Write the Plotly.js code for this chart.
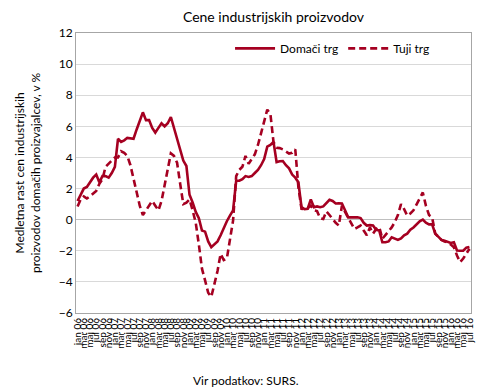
<!DOCTYPE html>
<html>
<head>
<meta charset="utf-8">
<script src="https://cdn.plot.ly/plotly-3.0.1.min.js"></script>
<style>html,body{margin:0;padding:0;background:#fff}#chart{width:490px;height:391px}</style>
</head>
<body>
<div id="chart"></div>
<script>
const monthNames = ["jan","feb","mar","apr","maj","jun","jul","avg","sep","okt","nov","dec"];
const startYear = 2006;
const nMonths = 127;

const domaci = [
 1.2,1.6,2.0,2.1,2.4,2.7,2.9,2.4,2.8,2.8,
 2.7,3.0,3.4,5.2,5.0,5.1,5.26,5.25,5.2,5.8,
 6.4,6.9,6.4,6.4,5.9,5.6,5.9,6.2,6.0,6.2,
 6.6,5.9,5.15,4.5,3.8,3.45,1.6,1.1,0.5,0.1,
 -0.7,-0.77,-1.4,-1.77,-1.6,-1.4,-1.0,-0.5,-0.1,0.26,
 0.6,2.5,2.5,2.6,2.8,2.75,2.8,3.0,3.2,3.5,
 3.9,4.7,4.8,5.0,3.7,3.75,3.77,3.5,3.3,2.9,
 2.7,2.4,0.8,0.68,0.7,1.3,0.8,0.85,0.8,0.85,
 1.1,1.28,1.2,1.04,1.05,1.04,0.6,0.15,0.15,0.15,
 0.15,0.1,-0.2,-0.38,-0.35,-0.38,-0.65,-0.7,-1.45,-1.45,
 -1.4,-1.13,-1.2,-1.3,-1.2,-1.0,-0.9,-0.65,-0.5,-0.3,
 -0.1,0.0,-0.2,-0.3,-0.3,-0.9,-1.13,-1.3,-1.35,-1.45,
 -1.5,-1.45,-1.98,-2.0,-2.0,-1.8,-1.75
];

const tuji = [
 0.85,1.3,1.5,1.36,1.5,1.7,1.85,2.3,2.6,3.4,
 3.6,3.8,4.0,4.0,4.4,4.3,4.1,3.5,2.6,1.6,
 0.9,0.3,0.6,0.9,1.2,0.9,0.6,1.2,2.2,3.3,
 4.26,4.1,3.66,2.3,1.0,1.1,1.3,0.6,-0.2,-1.6,
 -3.15,-3.9,-4.7,-4.96,-4.2,-3.3,-2.2,-2.6,-2.5,-1.3,
 -0.06,2.8,3.2,3.4,4.1,3.6,3.9,4.2,4.8,5.58,
 6.3,7.07,6.8,5.0,4.62,4.6,4.52,4.4,4.25,4.3,
 4.52,2.1,0.7,0.68,0.75,0.9,0.6,0.55,0.1,0.04,
 0.53,0.3,0.04,-0.2,-0.38,0.9,0.5,0.15,-0.2,-0.6,
 -0.5,-0.38,-0.7,-1.0,-0.5,-0.9,-0.6,-0.47,-1.23,-1.0,
 -0.8,-0.5,-0.15,0.3,1.0,0.68,0.26,0.4,0.6,1.0,
 1.4,1.75,0.9,0.3,0.15,-0.9,-1.1,-1.3,-1.4,-1.45,
 -1.6,-1.77,-2.3,-2.73,-2.5,-2.2,-1.87
];

const monthIdx = Array.from({length: nMonths}, (_, i) => i);
const tickVals = monthIdx.filter(i => i % 2 === 0);
const tickText = tickVals.map(i => monthNames[i % 12] + " " + String((startYear + Math.floor(i / 12)) % 100).padStart(2, "0"));

const col = "#A50021";
const fontFam = "Lato, 'Open Sans', sans-serif";

const traces = [
  {x: monthIdx, y: domaci, name: "Domači trg", type: "scatter", mode: "lines",
   line: {color: col, width: 2.6}},
  {x: monthIdx, y: tuji, name: "Tuji trg", type: "scatter", mode: "lines",
   line: {color: col, width: 2.6, dash: "7px,4px"}}
];

const layout = {
  width: 490, height: 391,
  margin: {l: 76, r: 19, t: 33, b: 78},
  paper_bgcolor: "#fff", plot_bgcolor: "#fff",
  font: {family: fontFam, size: 12, color: "#000"},
  title: {text: "Cene industrijskih proizvodov", x: 0.5, xref: "paper", y: 0.955, yanchor: "middle",
          font: {family: fontFam, size: 14, color: "#000"}},
  showlegend: true,
  legend: {orientation: "h", x: 0.39, xanchor: "left", y: 0.945, yanchor: "middle",
           bgcolor: "rgba(0,0,0,0)", font: {family: fontFam, size: 12, color: "#000"},
           itemwidth: 40, tracegroupgap: 0},
  xaxis: {
    range: [-0.5, nMonths - 0.5],
    tickmode: "array", tickvals: tickVals, ticktext: tickText,
    tickangle: -90, tickfont: {family: fontFam, size: 10, color: "#000"},
    showgrid: false, zeroline: false,
    showline: true, linecolor: "#a6a6a6", linewidth: 1, mirror: true,
    ticks: "", fixedrange: true
  },
  yaxis: {
    range: [-6, 12], dtick: 2, tick0: 0,
    tickfont: {family: fontFam, size: 12, color: "#000"},
    showgrid: true, gridcolor: "#d9d9d9", gridwidth: 1,
    zeroline: true, zerolinecolor: "#bfbfbf", zerolinewidth: 1,
    showline: true, linecolor: "#a6a6a6", linewidth: 1, mirror: true,
    ticks: "", ticklen: 0,
    title: {text: "Medletna rast cen industrijskih<br>proizvodov domačih proizvajalcev, v %",
            font: {family: fontFam, size: 12, color: "#000"}, standoff: 15}
  },
  annotations: [
    {text: "Vir podatkov: SURS.", xref: "paper", yref: "paper", x: 0.43, y: -0.24,
     xanchor: "center", yanchor: "middle", showarrow: false,
     font: {family: fontFam, size: 12, color: "#000"}}
  ]
};

Plotly.newPlot("chart", traces, layout, {displayModeBar: false, staticPlot: true});
</script>
</body>
</html>
